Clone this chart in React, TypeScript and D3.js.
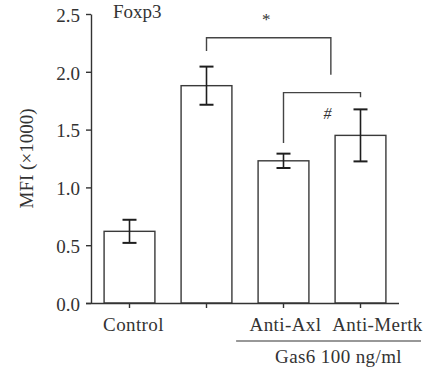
import { useEffect, useRef } from "react";
import * as d3 from "d3";

// values
const groups = ["Control", "Gas6", "Anti-Axl", "Anti-Mertk"];
const tickLabels = ["Control", "", "Anti-Axl", "Anti-Mertk"];
const labelShift = [4, 0, 2, 17];
const means = [0.62, 1.88, 1.23, 1.45];
const errors = [0.1, 0.165, 0.062, 0.225];
const yTicks = [0, 0.5, 1.0, 1.5, 2.0, 2.5];

// significance brackets (data units)
const brackets = [
  { from: "Gas6", to: "Anti-Axl", toShift: 0.615, top: 2.295, leftEnd: 2.18, rightEnd: 1.975, mark: "*", markAt: 0.48, markY: 2.46 },
  { from: "Anti-Axl", to: "Anti-Mertk", toShift: 0, top: 1.82, leftEnd: 1.385, rightEnd: 1.78, mark: "#", markAt: 0.57, markY: 1.64 },
];

const width = 433;
const height = 374;
const margin = { top: 14, right: 34, bottom: 71, left: 91 };
const font = "'Liberation Serif', 'Times New Roman', serif";

const App = () => {
  const svgRef = useRef<SVGSVGElement>(null);

  useEffect(() => {
    const svg = d3.select(svgRef.current);
    svg.selectAll("*").remove();

    const boundsW = width - margin.left - margin.right;
    const boundsH = height - margin.top - margin.bottom;

    const x = d3
      .scaleBand<string>()
      .domain(groups)
      .range([0, boundsW])
      .paddingInner(0.34)
      .paddingOuter(0.17);
    const y = d3.scaleLinear().domain([0, 2.5]).range([boundsH, 0]);

    const g = svg
      .append("g")
      .attr("transform", `translate(${margin.left},${margin.top})`);

    // barras
    g.selectAll("rect.bar")
      .data(groups)
      .join("rect")
      .attr("class", "bar")
      .attr("x", (d) => x(d)!)
      .attr("y", (d, i) => y(means[i]))
      .attr("width", x.bandwidth())
      .attr("height", (d, i) => boundsH - y(means[i]))
      .attr("fill", "#fff")
      .attr("stroke", "#3a3a3a")
      .attr("stroke-width", 1.4);

    // barras de erro
    const cx = (d: string) => x(d)! + x.bandwidth() / 2;
    const err = g.append("g").attr("stroke", "#1e1e1e");
    groups.forEach((d, i) => {
      const c = cx(d);
      const top = y(means[i] + errors[i]);
      const bot = y(means[i] - errors[i]);
      err.append("line").attr("x1", c).attr("x2", c).attr("y1", top).attr("y2", bot).attr("stroke-width", 1.6);
      [top, bot].forEach((yy) =>
        err.append("line").attr("x1", c - 7).attr("x2", c + 7).attr("y1", yy).attr("y2", yy).attr("stroke-width", 2)
      );
    });

    // eixo Y
    const yAxis = g
      .append("g")
      .call(d3.axisLeft(y).tickValues(yTicks).tickFormat(d3.format(".1f")).tickSize(5).tickSizeOuter(0).tickPadding(6));
    yAxis.selectAll("path, line").attr("stroke", "#333").attr("stroke-width", 1.4);
    yAxis.selectAll("text").attr("font-family", font).attr("font-size", 19).attr("fill", "#333").attr("dy", "0.38em");

    // eixo X
    const xAxis = g
      .append("g")
      .attr("transform", `translate(0,${boundsH})`)
      .call(d3.axisBottom(x).tickSize(5).tickSizeOuter(0).tickFormat(() => ""));
    xAxis.selectAll("path, line").attr("stroke", "#333").attr("stroke-width", 1.4);
    xAxis.select(".domain").attr("d", `M-5,0.5H${boundsW}`);

    g.append("g")
      .selectAll("text")
      .data(groups)
      .join("text")
      .attr("x", (d, i) => cx(d) + labelShift[i])
      .attr("y", boundsH + 28)
      .attr("text-anchor", "middle")
      .attr("font-family", font)
      .attr("font-size", 19)
      .attr("letter-spacing", 0.4)
      .attr("fill", "#333")
      .text((d, i) => tickLabels[i]);

    // Gas6 group line
    const lineX0 = x("Anti-Axl")! - 22;
    const lineX1 = boundsW + 22;
    g.append("line")
      .attr("x1", lineX0)
      .attr("x2", lineX1)
      .attr("y1", boundsH + 38)
      .attr("y2", boundsH + 38)
      .attr("stroke", "#333")
      .attr("stroke-width", 1.2);
    g.append("text")
      .attr("x", (lineX0 + lineX1) / 2 + 10)
      .attr("y", boundsH + 60)
      .attr("text-anchor", "middle")
      .attr("font-family", font)
      .attr("font-size", 19)
      .attr("letter-spacing", 0.4)
      .attr("fill", "#333")
      .text("Gas6 100 ng/ml");

    // brackets
    brackets.forEach((b) => {
      const x0 = cx(b.from);
      const x1 = cx(b.to) + b.toShift * x.step();
      g.append("path")
        .attr("d", `M${x0},${y(b.leftEnd)}V${y(b.top)}H${x1}V${y(b.rightEnd)}`)
        .attr("fill", "none")
        .attr("stroke", "#444")
        .attr("stroke-width", 1.4);
      g.append("text")
        .attr("x", x0 + (x1 - x0) * b.markAt)
        .attr("y", y(b.markY))
        .attr("text-anchor", "middle")
        .attr("dy", "0.35em")
        .attr("font-family", font)
        .attr("font-size", b.mark === "*" ? 17 : 16)
        .attr("font-style", b.mark === "#" ? "italic" : "normal")
        .attr("fill", "#333")
        .text(b.mark);
    });

    // titulo
    g.append("text")
      .attr("x", 22)
      .attr("y", 4)
      .attr("font-family", font)
      .attr("font-size", 19)
      .attr("fill", "#333")
      .text("Foxp3");

    // label eixo y
    g.append("text")
      .attr("transform", `translate(${-margin.left + 33},${boundsH / 2}) rotate(-90)`)
      .attr("text-anchor", "middle")
      .attr("font-family", font)
      .attr("font-size", 19)
      .attr("fill", "#333")
      .text("MFI (×1000)");
  }, []);

  return (
    <svg ref={svgRef} width={width} height={height} style={{ position: "absolute", left: 0, top: 0 }}></svg>
  );
};

export default App;
